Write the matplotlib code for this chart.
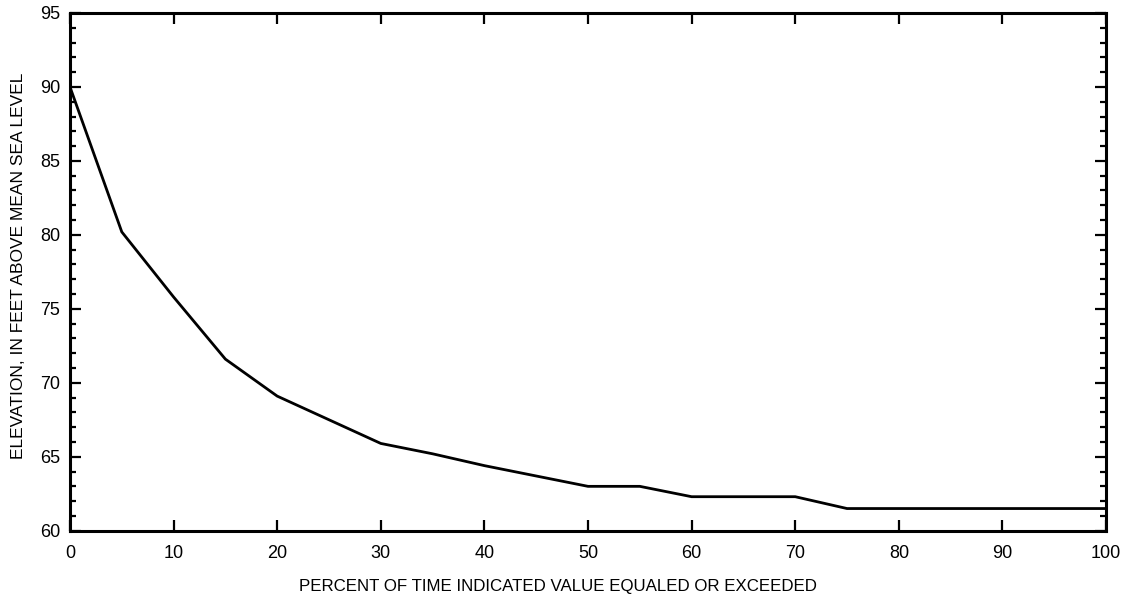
import matplotlib
matplotlib.use("Agg")
import matplotlib.pyplot as plt
from matplotlib.ticker import MultipleLocator

# duration curve
percent = [0, 5, 10, 15, 20, 25, 30, 35, 40, 45, 50, 55, 60, 65, 70, 75, 80, 85, 90, 95, 100]
elevation = [90.0, 80.2, 75.8, 71.6, 69.1, 67.5, 65.9, 65.2, 64.4, 63.7, 63.0, 63.0, 62.3, 62.3, 62.3,
             61.5, 61.5, 61.5, 61.5, 61.5, 61.5]

x_label = "PERCENT OF TIME INDICATED VALUE EQUALED OR EXCEEDED"
y_label = "ELEVATION, IN FEET ABOVE MEAN SEA LEVEL"

plt.rcParams['font.family'] = ['Liberation Sans', 'DejaVu Sans']

fig = plt.figure(figsize=(11.27, 5.98), dpi=100)
ax = fig.add_axes([0.0621, 0.1125, 0.9193, 0.8658])

ax.plot(percent, elevation, color='black', lw=2.0, solid_joinstyle='miter')

ax.set_xlim(0, 100)
ax.set_ylim(60, 95)
ax.xaxis.set_major_locator(MultipleLocator(10))
ax.yaxis.set_major_locator(MultipleLocator(5))
ax.yaxis.set_minor_locator(MultipleLocator(1))

for s in ax.spines.values():
    s.set_linewidth(2.2)

ax.tick_params(which='both', direction='in', top=True, right=True, width=1.6, colors='black')
ax.tick_params(axis='y', which='major', length=8, pad=7, labelsize=13)
ax.tick_params(axis='y', which='minor', length=4)
ax.tick_params(axis='x', which='major', length=8, pad=10, labelsize=13)

ax.set_xlabel(x_label, fontsize=12.2)
ax.set_ylabel(y_label, fontsize=12.5)
ax.xaxis.set_label_coords(0.471, -0.094)
ax.yaxis.set_label_coords(-0.0425, 0.511)

fig.savefig("out.png", dpi=100)
